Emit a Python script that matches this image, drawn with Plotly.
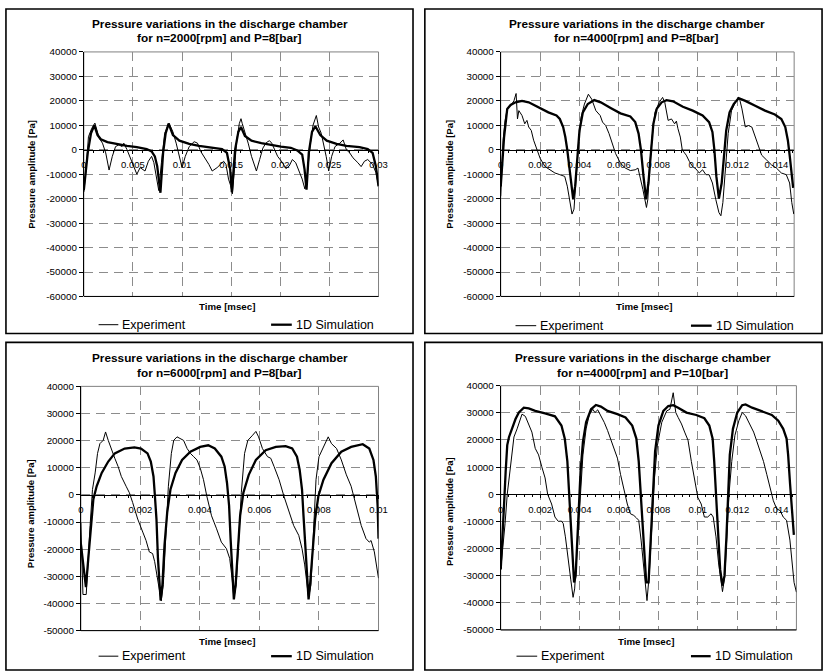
import plotly.graph_objects as go

W, H = 834, 672
FONT = "Liberation Sans, Arial, sans-serif"
GRID = "#8c8c8c"

# ---------------- data (time in s, pressure in Pa) ----------------
P1_EXP_T = [0, 0.00023, 0.00047, 0.0008, 0.00113, 0.00157, 0.0019, 0.00223, 0.00257, 0.0029,
            0.00323, 0.00357, 0.0039, 0.00407, 0.0044, 0.00473, 0.00507, 0.0054, 0.00573, 0.00623,
            0.00657, 0.0069, 0.00713, 0.0074, 0.00763, 0.0079, 0.00823, 0.00867, 0.00907, 0.0094,
            0.00973, 0.01, 0.01033, 0.01073, 0.01123, 0.01157, 0.0119, 0.01223, 0.01273, 0.01307,
            0.01357, 0.0139, 0.01423, 0.01447, 0.01473, 0.01495, 0.01513, 0.01533, 0.01557, 0.01583,
            0.016, 0.01613, 0.0164, 0.01673, 0.01707, 0.01757, 0.0179, 0.01823, 0.01857, 0.0189,
            0.01913, 0.0194, 0.01973, 0.02023, 0.02057, 0.0209, 0.02123, 0.02157, 0.0219, 0.02223,
            0.0225, 0.02273, 0.02307, 0.02333, 0.02367, 0.0239, 0.02417, 0.0244, 0.02467, 0.02493,
            0.02523, 0.02557, 0.02607, 0.0264, 0.02673, 0.02707, 0.0274, 0.0279, 0.02823, 0.02857,
            0.0289, 0.0294, 0.02973, 0.03]
P1_EXP_P = [-17300, -8000, 5300, 8700, 10900, 4700, 2700, -1300, -8300, -2700,
            1300, 2000, 1300, 2700, 0, -3300, -7300, -10000, -7300, -8700,
            -4700, -2700, -5300, -12000, -16700, -5300, 6700, 10900, 7300, 2700,
            -2700, -7300, -2700, 1300, 3300, 2700, -700, -2700, -6000, -8700,
            -7300, -6000, -4700, -6000, -12000, -14700, -18000, -8000, 4000, 10700,
            12700, 10700, 7300, 2700, -2700, -8700, -4000, 700, 2900, 3700,
            2700, 300, -2700, -5300, -7700, -6700, -4000, -5300, -8700, -12000,
            -16000, -10700, 2700, 10000, 14000, 9300, 6700, 2700, -2700, -8700,
            -2700, 1300, 2700, 4000, 0, -1300, -3300, -5300, -6900, -4700,
            -4000, -6000, -9300, -14700]
P1_SIM_T = [0, 0.0004, 0.00073, 0.00107, 0.0014, 0.00173, 0.0024, 0.0034, 0.0044, 0.0054,
            0.0064, 0.0069, 0.00723, 0.00747, 0.00767, 0.0078, 0.00807, 0.00833, 0.00863, 0.00907,
            0.00973, 0.01073, 0.01173, 0.01307, 0.01407, 0.01457, 0.0149, 0.01507, 0.0154, 0.01573,
            0.016, 0.0164, 0.01707, 0.01807, 0.01907, 0.02007, 0.02107, 0.02173, 0.02223, 0.02247,
            0.02267, 0.0229, 0.02323, 0.02357, 0.02407, 0.02473, 0.02573, 0.02673, 0.02807, 0.0289,
            0.0294, 0.02973, 0.03]
P1_SIM_P = [-16500, -1300, 6700, 10000, 6000, 4300, 3100, 2300, 1600, 1100,
            300, -700, -2700, -6700, -13300, -17600, -1300, 6700, 10700, 6000,
            3700, 2400, 1600, 900, 300, -1300, -8000, -17300, 0, 7300,
            9300, 5600, 3700, 2700, 1900, 1300, 800, -300, -2000, -8000,
            -16300, -1300, 7300, 9600, 6000, 3700, 2400, 1600, 1100, 300,
            -1300, -6700, -15000]

P2_EXP_T = [0, 0.00005, 0.00012, 0.00022, 0.00033, 0.0005, 0.00067, 0.00078, 0.00085, 0.00092,
            0.00108, 0.00122, 0.00133, 0.00142, 0.00155, 0.00167, 0.00183, 0.002, 0.00225, 0.0025,
            0.00275, 0.003, 0.00325, 0.00338, 0.0035, 0.00362, 0.00372, 0.00383, 0.00395, 0.00408,
            0.00425, 0.00445, 0.00462, 0.00483, 0.00505, 0.00517, 0.00533, 0.0055, 0.00567, 0.00583,
            0.00608, 0.00633, 0.00658, 0.00683, 0.00697, 0.00708, 0.00722, 0.0074, 0.00747, 0.00755,
            0.00767, 0.00783, 0.00805, 0.00822, 0.00833, 0.0085, 0.00867, 0.00883, 0.00892, 0.009,
            0.00912, 0.00922, 0.00942, 0.00958, 0.00975, 0.00992, 0.01008, 0.01025, 0.01042, 0.01058,
            0.01075, 0.01092, 0.01108, 0.01118, 0.01128, 0.01142, 0.01155, 0.01172, 0.01192, 0.01212,
            0.01225, 0.01242, 0.01258, 0.01275, 0.01292, 0.01308, 0.01325, 0.0135, 0.01375, 0.014,
            0.01425, 0.0145, 0.01467, 0.01478, 0.01488]
P2_EXP_P = [-19000, -8200, 3900, 12000, 16700, 18000, 20000, 23000, 12600, 16000,
            14000, 10600, 12000, 9300, 7900, 3900, -100, -3500, -6900, -8200,
            -9500, -10200, -10900, -14900, -21600, -26300, -24300, -10900, 2600, 13300,
            18700, 22700, 20700, 16000, 14000, 11300, 9900, 6600, 2600, -1500,
            -5500, -7500, -8500, -8200, -7500, -10900, -16300, -23600, -20300, -8200,
            3900, 15300, 19400, 21400, 19400, 12000, 12600, 10600, 11700, 8600,
            5200, -100, -2200, -4800, -6900, -7900, -9500, -8200, -10200, -10200,
            -13600, -20300, -25700, -27000, -21600, -6900, 6600, 16000, 19400, 21100,
            16700, 9300, 9900, 9300, 5200, 1200, -2200, -4200, -6200, -7500,
            -9500, -10200, -13600, -21600, -26300]
P2_SIM_T = [0, 0.00008, 0.00017, 0.00033, 0.0005, 0.00075, 0.00108, 0.00142, 0.00192, 0.00242,
            0.00283, 0.003, 0.00317, 0.00328, 0.00338, 0.0035, 0.00362, 0.00368, 0.00378, 0.00388,
            0.004, 0.00417, 0.00442, 0.00475, 0.00508, 0.00558, 0.00608, 0.00658, 0.00683, 0.007,
            0.00712, 0.00725, 0.00738, 0.0075, 0.00762, 0.00775, 0.00792, 0.00817, 0.00842, 0.00875,
            0.00925, 0.00975, 0.01025, 0.01058, 0.01075, 0.01085, 0.01095, 0.01108, 0.01122, 0.01133,
            0.01145, 0.01162, 0.01183, 0.01208, 0.01242, 0.01292, 0.01342, 0.01392, 0.01425, 0.01445,
            0.01458, 0.01468, 0.01478, 0.01485]
P2_SIM_P = [-15000, -5500, 5200, 16700, 18300, 19400, 20000, 19400, 17300, 15300,
            14000, 12600, 9300, 5200, -100, -8200, -16900, -20300, -14900, -2800,
            7900, 15300, 18700, 20300, 19400, 17100, 14900, 13600, 11300, 6600,
            -100, -10900, -20300, -13600, -100, 10600, 16700, 19400, 20300, 19800,
            17600, 16000, 14000, 11300, 7300, -100, -10900, -20000, -13600, -1500,
            7900, 15300, 18700, 21100, 20000, 18000, 16000, 14400, 12600, 9300,
            3900, -2800, -10900, -15600]

P3_EXP_T = [0, 0.00007, 0.00018, 0.00023, 0.00031, 0.00039, 0.00048, 0.00056, 0.00064, 0.00075,
            0.00083, 0.00092, 0.00103, 0.00114, 0.00125, 0.00136, 0.00152, 0.00163, 0.00174, 0.00191,
            0.00208, 0.00219, 0.0023, 0.00241, 0.00248, 0.00257, 0.00265, 0.0027, 0.00277, 0.00285,
            0.00294, 0.00304, 0.00312, 0.00323, 0.00334, 0.00345, 0.00357, 0.00368, 0.00379, 0.0039,
            0.00401, 0.00412, 0.00423, 0.00439, 0.00456, 0.00472, 0.00489, 0.005, 0.00508, 0.00514,
            0.00522, 0.00531, 0.00539, 0.0055, 0.00561, 0.00577, 0.00588, 0.00597, 0.0061, 0.00627,
            0.00638, 0.00649, 0.00666, 0.00682, 0.00699, 0.00715, 0.00732, 0.00743, 0.00752, 0.00759,
            0.00765, 0.00773, 0.00781, 0.0079, 0.008, 0.00815, 0.00831, 0.00842, 0.00859, 0.00875,
            0.00892, 0.00908, 0.00925, 0.00942, 0.00958, 0.00969, 0.00975, 0.00986, 0.01]
P3_EXP_P = [-10100, -36700, -36700, -25800, -11300, 2000, 8100, 15300, 18900, 20100,
            23200, 20100, 16500, 13500, 10500, 6800, 3200, 800, -2800, -8900,
            -13700, -16800, -21000, -21600, -24600, -30700, -36700, -39100, -33100, -16100,
            3200, 15300, 20100, 21400, 20800, 20100, 17100, 15300, 14100, 12900,
            9900, 5600, -400, -7700, -12500, -17400, -19800, -23400, -30700, -37900,
            -33100, -16100, 800, 15300, 20100, 22000, 23400, 21400, 17100, 14100,
            13500, 10500, 5600, -400, -6500, -11300, -14900, -19800, -25800, -33100,
            -37900, -33100, -13700, 5600, 14100, 17700, 21400, 18900, 17100, 12900,
            7400, 3200, -4000, -11300, -16100, -17400, -16800, -21000, -30700]
P3_SIM_T = [0, 0.00017, 0.00025, 0.00034, 0.00042, 0.00053, 0.0007, 0.00092, 0.00114, 0.00147,
            0.0018, 0.00202, 0.00224, 0.00235, 0.00244, 0.00248, 0.00254, 0.00259, 0.00265, 0.00268,
            0.00274, 0.00281, 0.0029, 0.00301, 0.00318, 0.0034, 0.00368, 0.00401, 0.00428, 0.0045,
            0.00472, 0.00483, 0.00491, 0.00498, 0.00503, 0.00509, 0.00514, 0.0052, 0.00528, 0.00535,
            0.00546, 0.00564, 0.00588, 0.00621, 0.00655, 0.00688, 0.0071, 0.00726, 0.00735, 0.00743,
            0.00748, 0.00754, 0.0076, 0.00765, 0.0077, 0.00778, 0.00787, 0.00798, 0.00815, 0.00842,
            0.00875, 0.00908, 0.00947, 0.00969, 0.00983, 0.00991, 0.00997, 0.01]
P3_SIM_P = [-18000, -34000, -23400, -11300, -1600, 3200, 8100, 12300, 15300, 17100,
            17500, 17100, 15300, 12300, 6800, 800, -8900, -23400, -35500, -38900,
            -33100, -18600, -6500, 2000, 8100, 12900, 15900, 17700, 18300, 17100,
            14100, 10500, 4400, -4000, -16100, -28200, -38500, -33100, -19800, -7700,
            800, 7400, 12900, 16500, 17700, 18000, 17100, 14100, 9300, 2000,
            -7700, -19800, -33100, -38500, -33100, -19800, -8900, -400, 5600, 11700,
            15900, 17700, 18700, 17100, 12900, 6800, -4000, -16100]

P4_EXP_T = [0, 0.00008, 0.00022, 0.00033, 0.0005, 0.00067, 0.00083, 0.00095, 0.00108, 0.00125,
            0.00142, 0.00158, 0.00175, 0.00192, 0.00208, 0.00225, 0.00238, 0.00258, 0.00275, 0.00292,
            0.00308, 0.00317, 0.00328, 0.00342, 0.00355, 0.00367, 0.00375, 0.00383, 0.00395, 0.00405,
            0.00417, 0.00433, 0.0045, 0.00467, 0.00478, 0.00492, 0.00508, 0.00525, 0.00542, 0.00567,
            0.00592, 0.00608, 0.00625, 0.00642, 0.00658, 0.00675, 0.00688, 0.007, 0.00712, 0.00725,
            0.00742, 0.00753, 0.00767, 0.0078, 0.00795, 0.00817, 0.00842, 0.00858, 0.00875, 0.00888,
            0.009, 0.00917, 0.00933, 0.0095, 0.00967, 0.00983, 0.01, 0.01017, 0.01033, 0.0105,
            0.01067, 0.01078, 0.01092, 0.01105, 0.01117, 0.01125, 0.01137, 0.01147, 0.01158, 0.01172,
            0.01188, 0.01208, 0.01225, 0.01242, 0.01258, 0.01283, 0.013, 0.01317, 0.01333, 0.0135,
            0.01367, 0.01383, 0.014, 0.01417, 0.01433, 0.0145, 0.01467, 0.01478, 0.01488, 0.015]
P4_EXP_P = [-27700, -21700, -10800, 0, 10800, 21100, 24100, 27100, 29500, 28700,
            25300, 22900, 16900, 14500, 10200, 6000, 0, -3600, -8400, -10000,
            -9900, -10800, -15700, -22900, -31300, -38000, -34900, -25300, -10800, 2400,
            14500, 24100, 29500, 31300, 30100, 31100, 28900, 26500, 23500, 18100,
            13300, 7200, 1200, -3600, -7200, -7800, -8700, -9600, -16900, -27700,
            -39200, -30100, -9600, 6000, 18100, 26500, 30700, 31300, 37400, 30100,
            28300, 25900, 22900, 19900, 12100, 6000, -1200, -3600, -8400, -8400,
            -7200, -8400, -15700, -25300, -32500, -35900, -30100, -14500, 0, 12100,
            21700, 27100, 30100, 28900, 26500, 22900, 19300, 15700, 12100, 7200,
            2400, -2400, -5400, -6000, -8400, -9600, -16900, -25300, -32500, -36100]
P4_SIM_T = [0, 0.00008, 0.00017, 0.00025, 0.00033, 0.00042, 0.00058, 0.00075, 0.00092, 0.00117,
            0.00142, 0.00175, 0.00225, 0.00275, 0.00308, 0.00325, 0.00338, 0.00345, 0.00353, 0.00362,
            0.00372, 0.0038, 0.00388, 0.00397, 0.00405, 0.00417, 0.00433, 0.00458, 0.00483, 0.00508,
            0.00542, 0.00592, 0.00633, 0.00667, 0.00688, 0.007, 0.00708, 0.00718, 0.00728, 0.00738,
            0.0075, 0.00762, 0.00772, 0.00783, 0.008, 0.00825, 0.0085, 0.00875, 0.009, 0.00942,
            0.00992, 0.01033, 0.01058, 0.01075, 0.01083, 0.01092, 0.01102, 0.01113, 0.01125, 0.01135,
            0.01145, 0.01153, 0.01162, 0.01178, 0.012, 0.01225, 0.01242, 0.01275, 0.01325, 0.01375,
            0.01408, 0.01433, 0.0145, 0.01458, 0.01468, 0.01478, 0.01487]
P4_SIM_P = [-27700, -18100, -3600, 8400, 18100, 21100, 24100, 27700, 30100, 31900,
            31600, 30700, 29800, 28700, 25300, 20500, 12100, 2400, -9600, -22900,
            -32500, -30100, -15700, -1200, 8400, 19300, 26500, 31300, 32900, 32300,
            30700, 29500, 28300, 25300, 20500, 12100, 2400, -10800, -24100, -32500,
            -32500, -15700, 1200, 15700, 25300, 30700, 32500, 32800, 31900, 30100,
            29200, 28000, 25300, 20500, 12100, 1200, -13300, -27700, -33700, -30100,
            -15700, 1200, 14500, 24100, 30100, 32800, 33100, 31900, 30400, 29200,
            27100, 24100, 20500, 14500, 3600, -8400, -15000]

# ---------------- text ----------------
TITLE_LINE1 = "Pressure variations in the discharge chamber"
TITLE_LINE2 = ["for n=2000[rpm] and P=8[bar]", "for n=4000[rpm] and P=8[bar]",
               "for n=6000[rpm] and P=8[bar]", "for n=4000[rpm] and P=10[bar]"]
X_TITLE = "Time [msec]"
Y_TITLE = "Pressure amplitude [Pa]"
LEGEND_NAMES = ["Experiment", "1D Simulation"]
Y_TICKS_A = [40000, 30000, 20000, 10000, 0, -10000, -20000, -30000, -40000, -50000, -60000]
Y_TICKS_B = [40000, 30000, 20000, 10000, 0, -10000, -20000, -30000, -40000, -50000]
X_RANGES = [(0, 0.03), (0, 0.0149), (0, 0.01), (0, 0.015)]
X_DTICKS = [0.005, 0.002, 0.002, 0.002]
Y_TICKSETS = [Y_TICKS_A, Y_TICKS_A, Y_TICKS_B, Y_TICKS_B]

SERIES = [
    (P1_EXP_T, P1_EXP_P, P1_SIM_T, P1_SIM_P),
    (P2_EXP_T, P2_EXP_P, P2_SIM_T, P2_SIM_P),
    (P3_EXP_T, P3_EXP_P, P3_SIM_T, P3_SIM_P),
    (P4_EXP_T, P4_EXP_P, P4_SIM_T, P4_SIM_P),
]

# ---------------- layout geometry (pixels) ----------------
PANELS = [
    dict(box=(3, 3, 416, 333), plot=(82, 46.7, 381, 295.3), tx=220, ty=(18, 33), ytx=29, yty=171,
         xt=(227, 306), ly=324, leg=((97, 117, 119), (272, 293, 295))),
    dict(box=(428, 3, 831, 333), plot=(505, 46.7, 802.7, 295.3), tx=643, ty=(18, 33), ytx=453, yty=171,
         xt=(650, 306), ly=325, leg=((520, 541, 543), (698, 719, 721))),
    dict(box=(3, 342, 416, 675), plot=(79, 386.7, 381, 635), tx=220, ty=(358, 373), ytx=28, yty=516,
         xt=(227, 646), ly=661, leg=((97, 117, 119), (272, 293, 295))),
    dict(box=(428, 342, 831, 675), plot=(505, 386, 805, 634.3), tx=649, ty=(358, 373), ytx=453, yty=514,
         xt=(652, 646), ly=661, leg=((521, 542, 544), (698, 718, 720))),
]


def fx(x):
    return x / W


def fy(y):
    return 1 - y / H


fig = go.Figure()
layout = dict(width=W, height=H, margin=dict(l=0, r=0, t=0, b=0),
              paper_bgcolor="white", plot_bgcolor="white", showlegend=False,
              font=dict(family=FONT, color="black"))
shapes = []
annotations = []

for i, pan in enumerate(PANELS):
    k = "" if i == 0 else str(i + 1)
    exp_t, exp_p, sim_t, sim_p = SERIES[i]
    assert len(exp_t) == len(exp_p) and len(sim_t) == len(sim_p)
    x0, y0, x1, y1 = pan["plot"]
    xd = [fx(x0), fx(x1)]
    yd = [fy(y1), fy(y0)]
    yt = Y_TICKSETS[i]
    yr = [min(yt), max(yt)]
    zero_pos = yd[0] + (0 - yr[0]) / (yr[1] - yr[0]) * (yd[1] - yd[0])
    dx = X_DTICKS[i]
    layout["xaxis" + k] = dict(
        domain=xd, range=list(X_RANGES[i]), anchor="free", position=zero_pos,
        tick0=0, dtick=dx, showline=True, linecolor="black", linewidth=1,
        ticks="outside", ticklen=3, tickcolor="black",
        minor=dict(dtick=dx / 5, ticks="outside", ticklen=2, tickcolor="black", showgrid=False),
        showgrid=True, gridcolor=GRID, griddash="9px,6px", gridwidth=1, zeroline=False,
        tickfont=dict(size=9.5, family=FONT, color="black"), ticklabelstandoff=3, fixedrange=True)
    layout["yaxis" + k] = dict(
        domain=yd, range=yr, anchor="x" + k, tickvals=yt, ticktext=[str(v) for v in yt],
        showline=True, linecolor="black", linewidth=1, ticks="outside", ticklen=4, tickcolor="black",
        showgrid=True, gridcolor=GRID, griddash="9px,6px", gridwidth=1, zeroline=False,
        tickfont=dict(size=9.8, family=FONT, color="black"), fixedrange=True)

    fig.add_trace(go.Scatter(x=exp_t, y=exp_p, mode="lines", name=LEGEND_NAMES[0],
                             line=dict(color="black", width=1), xaxis="x" + k, yaxis="y" + k))
    fig.add_trace(go.Scatter(x=sim_t, y=sim_p, mode="lines", name=LEGEND_NAMES[1],
                             line=dict(color="black", width=2.3), xaxis="x" + k, yaxis="y" + k))

    # plot area border (grey) and bottom line
    shapes.append(dict(type="rect", xref="paper", yref="paper", x0=xd[0], x1=xd[1], y0=yd[0], y1=yd[1],
                       line=dict(color="#808080", width=1), layer="below"))
    shapes.append(dict(type="line", xref="paper", yref="paper", x0=xd[0], x1=xd[1], y0=yd[0], y1=yd[0],
                       line=dict(color="black", width=1)))
    # panel frame
    bx0, by0, bx1, by1 = pan["box"]
    shapes.append(dict(type="rect", xref="paper", yref="paper", x0=fx(bx0), x1=fx(bx1), y0=fy(by1), y1=fy(by0),
                       line=dict(color="black", width=1.6)))

    # titles
    annotations.append(dict(text="<b>" + TITLE_LINE1 + "</b>", x=fx(pan["tx"]), y=fy(pan["ty"][0]),
                            xref="paper", yref="paper", xanchor="center", yanchor="middle", showarrow=False,
                            font=dict(size=11.8)))
    annotations.append(dict(text="<b>" + TITLE_LINE2[i] + "</b>", x=fx(pan["tx"]), y=fy(pan["ty"][1]),
                            xref="paper", yref="paper", xanchor="center", yanchor="middle", showarrow=False,
                            font=dict(size=11.8)))
    annotations.append(dict(text="<b>" + Y_TITLE + "</b>", x=fx(pan["ytx"]), y=fy(pan["yty"]), textangle=-90,
                            xref="paper", yref="paper", xanchor="center", yanchor="middle", showarrow=False,
                            font=dict(size=9.5)))
    annotations.append(dict(text="<b>" + X_TITLE + "</b>", x=fx(pan["xt"][0]), y=fy(pan["xt"][1]),
                            xref="paper", yref="paper", xanchor="center", yanchor="middle", showarrow=False,
                            font=dict(size=9.7)))
    # legend
    for j, (lx0, lx1, tx) in enumerate(pan["leg"]):
        shapes.append(dict(type="line", xref="paper", yref="paper", x0=fx(lx0), x1=fx(lx1),
                           y0=fy(pan["ly"]), y1=fy(pan["ly"]),
                           line=dict(color="black", width=1 if j == 0 else 2.3)))
        annotations.append(dict(text=LEGEND_NAMES[j], x=fx(tx), y=fy(pan["ly"]), xref="paper", yref="paper",
                                xanchor="left", yanchor="middle", showarrow=False, font=dict(size=12.5)))

layout["shapes"] = shapes
layout["annotations"] = annotations
fig.update_layout(**layout)
fig.write_html("out.html",
               config={"displayModeBar": False, "staticPlot": True},
               post_script="document.body.style.margin='0';document.body.style.padding='0';"
                           "document.documentElement.style.overflow='hidden';")
